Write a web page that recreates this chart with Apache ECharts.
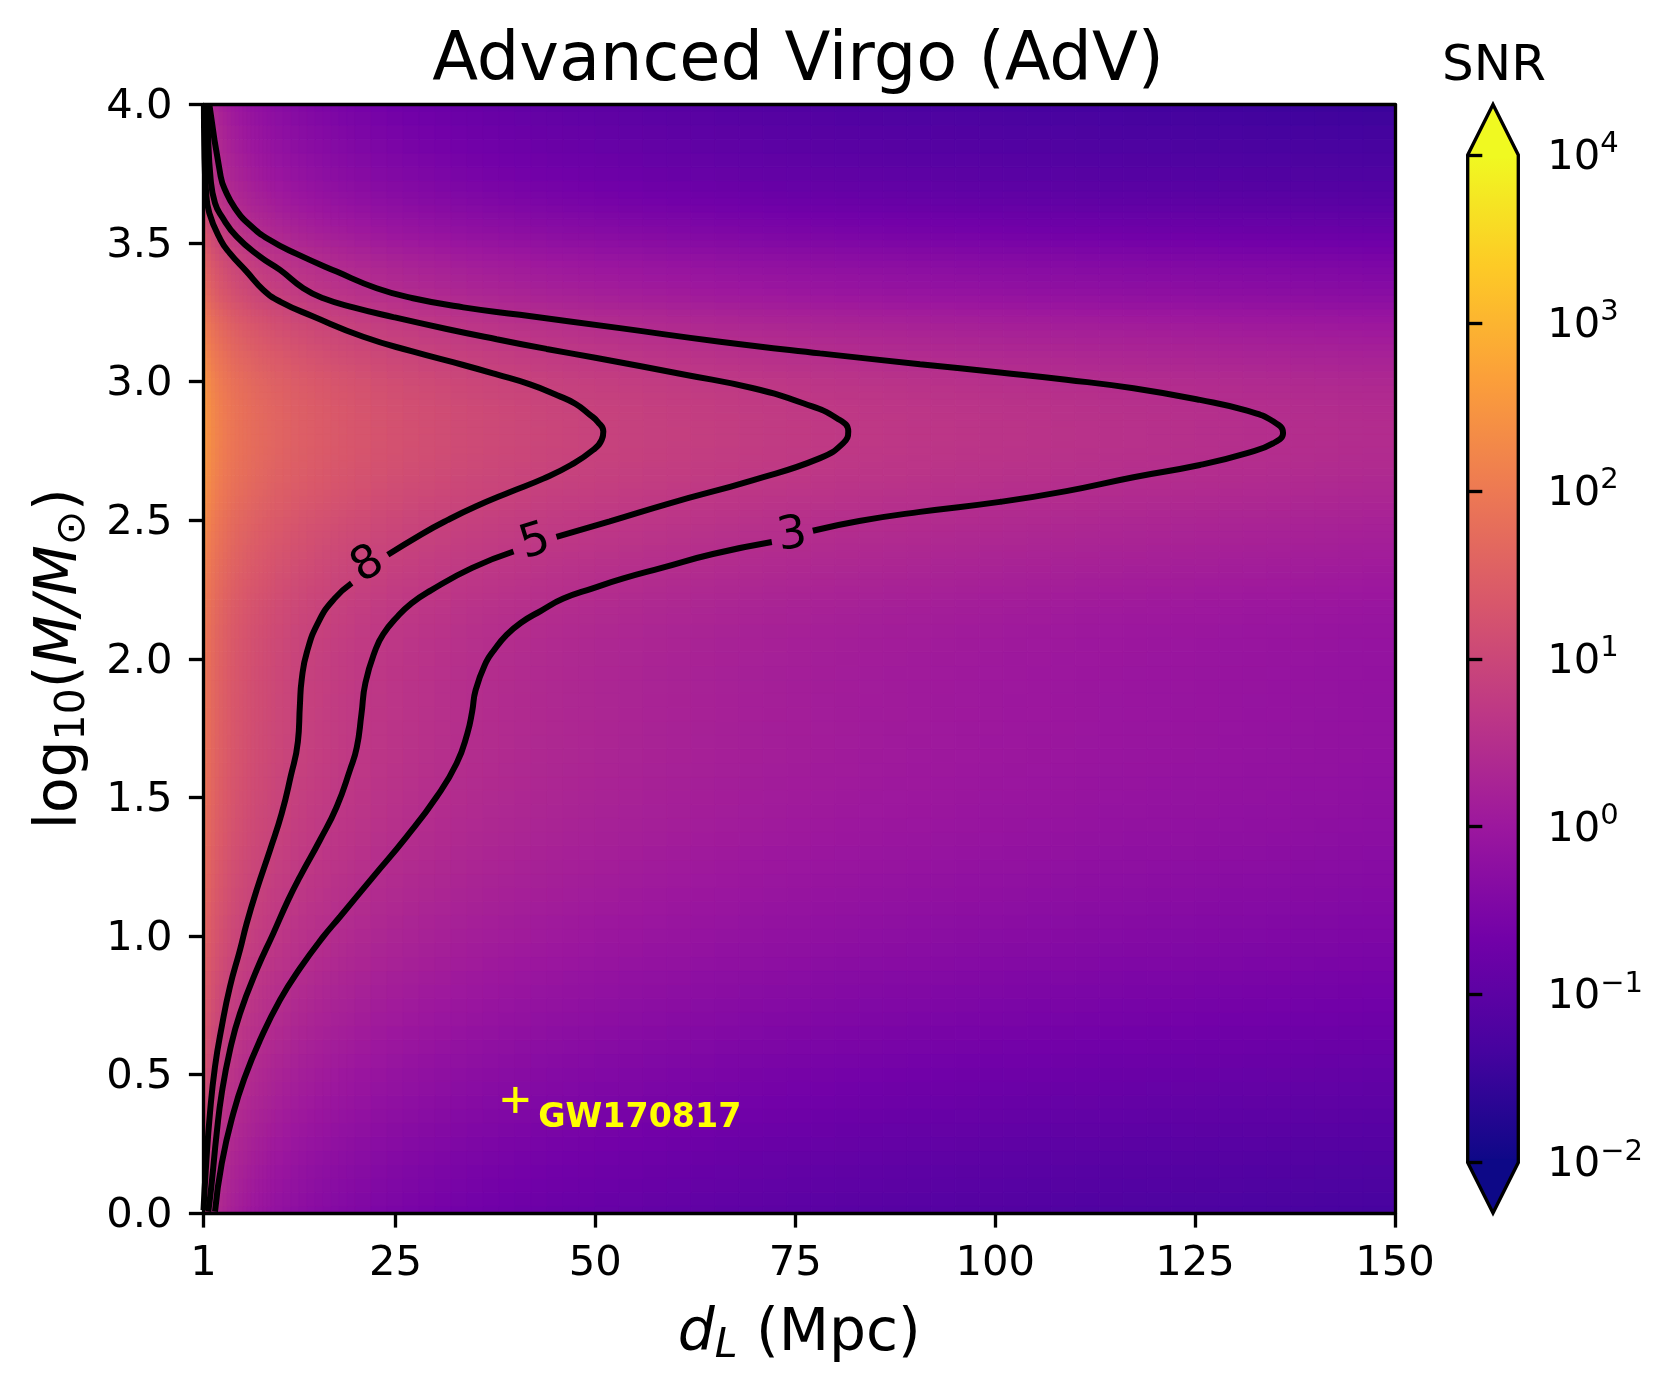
<!DOCTYPE html>
<html><head><meta charset="utf-8">
<style>html,body{margin:0;padding:0;background:#fff}#c{width:1673px;height:1390px}</style>
<script src="https://cdn.jsdelivr.net/npm/echarts@6/dist/echarts.min.js"></script>
</head><body><div id="c"></div>
<script>
const xTickValues=[1,25,50,75,100,125,150];
const cbarTickExponents=[-2,-1,0,1,2,3,4];
const massRows=[0,.05,.1,.15,.2,.25,.3,.35,.4,.45,.5,.55,.6,.65,.7,.75,.8,.85,.9,.95,1,1.05,1.1,1.15,1.2,1.25,1.3,1.35,1.4,1.45,1.5,1.55,1.6,1.65,1.7,1.75,1.8,1.85,1.9,1.95,2,2.05,2.1,2.15,2.175,2.2,2.225,2.25,2.275,2.3,2.325,2.35,2.375,2.4,2.425,2.45,2.475,2.5,2.525,2.55,2.575,2.6,2.625,2.65,2.675,2.7,2.725,2.75,2.775,2.8,2.825,2.85,2.875,2.9,2.925,2.95,2.975,3,3.025,3.05,3.075,3.1,3.125,3.15,3.175,3.2,3.225,3.25,3.275,3.3,3.325,3.35,3.375,3.4,3.425,3.45,3.475,3.5,3.525,3.55,3.575,3.6,3.625,3.65,3.675,3.7,3.75,3.8,3.85,3.9,3.95,4];
// distance at which SNR = 3, read per mass row off the picture
const snr3Distance=[2.4,2.65,2.9,3.15,3.45,3.8,4.2,4.65,5.2,5.75,6.3,7,7.75,8.5,9.4,10.3,11.3,12.35,13.8,15,16.2,17.5,18.9,20.4,21.8,23.3,24.7,26.2,27.6,28.9,30.1,31.2,32.2,33.1,33.8,34.25,34.55,34.75,35.1,35.7,36.6,37.8,39.3,41.7,43.2,45,47,49.4,52,55,58,61,64.5,68,72.3,75.5,79.3,84,88.6,94,99,104.6,110.6,116.4,121,125.8,129.5,132.3,134.8,135.8,136,135.2,133.5,130.8,127,122.5,117.5,111,103,93.5,86,78.6,71,64,57.5,51.2,44,37.7,32,27.3,23.8,21.2,19.2,17.4,15.4,13.5,11.6,9.8,8.5,7.3,6.4,5.6,4.95,4.4,4,3.6,3.1,2.75,2.45,2.2,1.95,1.75];
const distanceEdges=[1,1.5,2,2.5,3,3.5,4,4.5,5,5.5,6,6.5,7,7.5,8,8.5,9,9.5,10,11,12,13,14,15,16,17,18,19,20,22,24,26,28,30,32,34,36,38,40,42,44,46,48,50,53,56,59,62,65,68,71,74,77,80,83,86,89,92,95,98,101,104,107,110,113,116,119,122,125,128,131,134,137,140,143,146,150];
const contour3=[[2.44,.005],[3.28,.179],[4.73,.36],[6.19,.492],[8.07,.624],[10.57,.769],[13.07,.883],[15.98,.997],[18.07,1.069],[22.24,1.214],[26.41,1.358],[30.16,1.502],[32.66,1.623],[34,1.731],[34.6,1.81],[35.03,1.887],[36.33,1.987],[37.3,2.03],[38.9,2.086],[40.7,2.13],[43.2,2.173],[46,2.217],[49.67,2.254],[53.5,2.29],[58.3,2.328],[64.7,2.378],[72.07,2.421],null,[77.2,2.462],[83,2.497],[90.6,2.53],[100.6,2.566],[108.9,2.605],[117.3,2.655],[125.6,2.699],[131.5,2.742],[134.8,2.778],[136,2.815],[134.8,2.856],[131.5,2.895],[125.6,2.934],[117.3,2.976],[108.9,3.007],[100.6,3.033],[90.6,3.063],[78.1,3.102],[65.6,3.144],[53.08,3.193],[40.57,3.241],[33.5,3.268],[27.2,3.301],[22.65,3.337],[17.65,3.397],[12.65,3.461],[9.3,3.511],[6.8,3.565],[4.94,3.626],[3.69,3.692],[3.15,3.74],[1.73,4]];
const contour5=[[1.6,.005],[2.02,.107],[2.65,.288],[3.28,.432],[4.31,.588],[5.56,.72],[7.65,.877],[9.73,1.009],[11.6,1.13],[13.07,1.214],[15.57,1.346],[17.66,1.466],[19.32,1.599],[20.17,1.68],[20.75,1.8],[21.25,1.913],[22.55,2.036],[23.5,2.09],[25.12,2.148],[27,2.2],[29.44,2.247],[34.6,2.328],[39.77,2.387],null,[45.14,2.44],[51.8,2.496],[59.3,2.561],[69.75,2.645],[78.1,2.724],[81,2.778],[81.63,2.82],[80.2,2.868],[76,2.922],[69.75,2.976],[61.4,3.024],[50,3.086],[43.9,3.118],[37.66,3.153],[31.41,3.19],[24.73,3.233],[19.73,3.268],[15.98,3.301],[13.48,3.337],[10.57,3.403],[8.07,3.451],[5.15,3.523],[3.28,3.596],[2.44,3.644],[1.9,3.728],[1.5,3.93],[1.4,4]];
const contour8=[[1,.01],[1.31,.167],[1.81,.361],[2.44,.528],[3.28,.672],[4.31,.817],[5.56,.949],[6.4,1.045],[7.65,1.166],[9.32,1.31],[10.78,1.442],[11.9,1.575],[12.8,1.7],[13.05,1.83],[13.28,1.925],[13.93,2.024],[15.43,2.136],[17.37,2.217],[19.53,2.273],null,[24.05,2.375],[28.3,2.45],[31.5,2.5],[35.1,2.55],[39.2,2.6],[43.5,2.65],[47,2.7],[49.75,2.754],[50.8,2.79],[51,2.82],[50.3,2.855],[49.33,2.88],[47.5,2.92],[45.3,2.95],[41.83,2.99],[37.66,3.026],[33.49,3.06],[27.24,3.108],[20.98,3.162],[14.73,3.235],[10.57,3.289],[8.48,3.331],[6.4,3.397],[4.31,3.463],[3.15,3.511],[1.73,3.608],[1.31,3.692],[1.1,3.85],[1.05,4]];
const contourLabels=[[21.55,2.337,'8',30],[42.48,2.418,'5',17],[74.64,2.443,'3',9]];
const gwMarker=[[40,.408]];
const gwLabel=[[42.8,.342,'GW170817']];
const plasmaStops=['#0d0887','#46039f','#7201a8','#9c179e','#bd3786','#d8576b','#ed7953','#fb9f3a','#fdca26','#f0f921'];
const cbarOutline=[[0,-2],[0,4],[.5,4.3],[1,4],[1,-2],[.5,-2.3]];

const rgb=plasmaStops.map(h=>[1,3,5].map(i=>parseInt(h.substr(i,2),16)));
function plasma(t){t=Math.max(0,Math.min(1,t))*(rgb.length-1);const i=Math.min(rgb.length-2,Math.floor(t)),f=t-i;
 return 'rgb('+[0,1,2].map(k=>Math.round(rgb[i][k]*(1-f)+rgb[i+1][k]*f)).join(',')+')';}
const fieldCells=[];
massRows.forEach((m,j)=>{
 const mLo=j?(massRows[j-1]+m)/2:m,mHi=j<massRows.length-1?(massRows[j+1]+m)/2:m;
 for(let i=0;i<distanceEdges.length-1;i++){
  const lo=distanceEdges[i],hi=distanceEdges[i+1];
  fieldCells.push([lo,hi,mLo,mHi,3*snr3Distance[j]/((lo+hi)/2)]);}});
const toLine=a=>a.map(p=>p===null?['-','-']:p);
const black='#000',SW=3.33;
const fam='"DejaVu Sans"';
const rich={a:{fontFamily:fam,fontSize:58.3,color:black},
 s:{fontFamily:fam,fontSize:41,color:black,padding:[24,0,0,0]},
 i:{fontFamily:fam,fontSize:58.3,fontStyle:'italic',color:black},
 si:{fontFamily:fam,fontSize:41,fontStyle:'italic',color:black,padding:[24,0,0,0]}};
const axisBase={axisLine:{onZero:false,lineStyle:{color:black,width:SW}},axisTick:{length:14.6,lineStyle:{color:black,width:SW}},splitLine:{show:false},z:10};
const lbl={fontFamily:fam,fontSize:41.67,color:black};
const lineS=d=>({type:'line',xAxisIndex:0,yAxisIndex:0,data:toLine(d),showSymbol:false,symbol:'none',smooth:.5,connectNulls:false,lineStyle:{color:black,width:6},z:3,silent:true,animation:false});
const option={animation:false,backgroundColor:'#fff',
 title:[{text:'Advanced Virgo (AdV)',left:793,top:24,textAlign:'center',textStyle:{fontFamily:fam,fontWeight:'normal',fontSize:67,color:black}},
  {text:'SNR',left:1489,top:37,textAlign:'center',textStyle:{fontFamily:fam,fontWeight:'normal',fontSize:50,color:black}}],
 grid:[{left:203.5,top:104.5,width:1191.5,height:1108.5},{left:1467.7,top:104.5,width:50.6,height:1108.5}],
 xAxis:[
  Object.assign({},axisBase,{type:'value',gridIndex:0,min:1,max:150,position:'bottom',
   axisLabel:Object.assign({},lbl,{margin:30,customValues:xTickValues}),axisTick:Object.assign({},axisBase.axisTick,{customValues:xTickValues}),
   name:'{i|d}{si|L}{a| (Mpc)}',nameLocation:'middle',nameGap:89,nameTextStyle:{rich}}),
  Object.assign({},axisBase,{type:'value',gridIndex:0,min:1,max:150,position:'top',axisLabel:{show:false},axisTick:{show:false}}),
  {type:'value',gridIndex:1,min:0,max:1,show:false}],
 yAxis:[
  Object.assign({},axisBase,{type:'value',gridIndex:0,min:0,max:4,interval:.5,position:'left',
   axisLabel:{margin:31,formatter:v=>'{v|'+v.toFixed(1)+'}',rich:{v:Object.assign({},lbl,{padding:[6,0,0,0]})}},
   name:'{a|log}{s|10}{a|(}{i|M/M}{s|⊙}{a|)}',nameLocation:'middle',nameGap:110,nameRotate:90,nameTextStyle:{rich}}),
  Object.assign({},axisBase,{type:'value',gridIndex:0,min:0,max:4,interval:.5,position:'right',axisLabel:{show:false},axisTick:{show:false}}),
  {type:'value',gridIndex:1,min:-2.3,max:4.3,position:'right',z:10,splitLine:{show:false},
   axisLine:{show:false},axisTick:{show:true,length:14.6,lineStyle:{color:black,width:SW},customValues:cbarTickExponents},
   axisLabel:{margin:29,customValues:cbarTickExponents,align:'left',
    formatter:v=>'{b|10}{e|'+(v<0?'\u2212'+(-v):v)+'}',
    rich:{b:{fontFamily:fam,fontSize:41.67,color:black,padding:[6,0,0,0]},e:{fontFamily:fam,fontSize:29,color:black,padding:[0,0,20,0]}}}}],
 series:[
  {type:'custom',xAxisIndex:0,yAxisIndex:0,data:fieldCells,encode:{x:[0,1],y:[2,3]},clip:true,progressive:0,silent:true,z:1,
   renderItem:(p,api)=>{const a=api.coord([api.value(0),api.value(3)]),b=api.coord([api.value(1),api.value(2)]);
    const c=plasma((Math.log10(api.value(4))+2)/6);
    return {type:'rect',shape:{x:a[0],y:a[1],width:b[0]-a[0],height:b[1]-a[1]},style:{fill:c,stroke:c,lineWidth:1}};}},
  lineS(contour3),lineS(contour5),lineS(contour8),
  {type:'scatter',xAxisIndex:0,yAxisIndex:0,data:contourLabels.map(l=>({value:[l[0],l[1]],label:{formatter:l[2],rotate:l[3]}})),symbolSize:1,itemStyle:{color:'rgba(0,0,0,0)',opacity:1},z:4,silent:true,
   label:{show:true,position:'inside',fontFamily:fam,fontSize:46,color:black}},
  {type:'custom',xAxisIndex:0,yAxisIndex:0,data:gwMarker,z:4,silent:true,
   renderItem:(p,api)=>{const c=api.coord([api.value(0),api.value(1)]),r=13,st={stroke:'#ffff00',lineWidth:4.2};
    return {type:'group',children:[{type:'line',shape:{x1:c[0]-r,y1:c[1],x2:c[0]+r,y2:c[1]},style:st},{type:'line',shape:{x1:c[0],y1:c[1]-r,x2:c[0],y2:c[1]+r},style:st}]};}},
  {type:'scatter',xAxisIndex:0,yAxisIndex:0,data:gwLabel.map(l=>({value:[l[0],l[1]],label:{formatter:l[2]}})),symbolSize:1,itemStyle:{color:'rgba(0,0,0,0)',opacity:1},z:4,silent:true,
   label:{show:true,position:'right',distance:0,fontFamily:fam,fontWeight:'bold',fontSize:33.3,color:'#ffff00'}},
  {type:'custom',xAxisIndex:2,yAxisIndex:2,data:[[0,-2,1,4]],encode:{x:[0,2],y:[1,3]},clip:false,z:2,silent:true,
   renderItem:(p,api)=>{const a=api.coord([0,4]),b=api.coord([1,-2]);
    const poly=cbarOutline.map(q=>api.coord(q));
    const tipTop=[[0,3.98],[0,4],[.5,4.3],[1,4],[1,3.98]].map(q=>api.coord(q)),tipBot=[[0,-1.98],[0,-2],[.5,-2.3],[1,-2],[1,-1.98]].map(q=>api.coord(q));
    return {type:'group',children:[
     {type:'rect',shape:{x:a[0],y:a[1],width:b[0]-a[0],height:b[1]-a[1]},
      style:{fill:new echarts.graphic.LinearGradient(0,1,0,0,plasmaStops.map((c,i)=>({offset:i/(plasmaStops.length-1),color:c})))}},
     {type:'polygon',shape:{points:tipTop},style:{fill:plasmaStops[plasmaStops.length-1]}},
     {type:'polygon',shape:{points:tipBot},style:{fill:plasmaStops[0]}},
     {type:'polygon',shape:{points:poly},style:{fill:'none',stroke:black,lineWidth:SW}}]};}}
 ]};
const chart=echarts.init(document.getElementById('c'),null,{renderer:'canvas',width:1673,height:1390});
chart.setOption(option);
</script></body></html>
